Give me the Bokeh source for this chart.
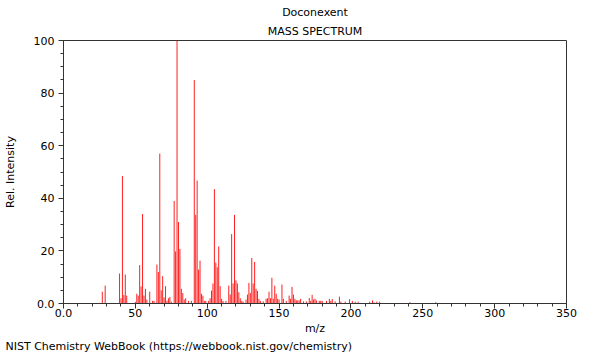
from bokeh.plotting import figure
from bokeh.models import FixedTicker, Range1d, Title
from bokeh.embed import file_html
from bokeh.resources import INLINE

# ---- data ----
mz = [27, 29, 39, 40, 41, 42, 43, 44, 50, 51, 52, 53, 54, 55, 56, 57, 58, 60, 62, 63,
      65, 66, 67, 68, 69, 70, 71, 72, 73, 74, 75, 77, 78, 79, 80, 81, 82, 83, 84, 85,
      87, 89, 91, 92, 93, 94, 95, 96, 97, 98, 99, 101, 102, 103, 104, 105, 106, 107, 108, 109,
      110, 111, 113, 115, 116, 117, 118, 119, 120, 121, 122, 123, 124, 125, 127, 128, 129, 130, 131, 132,
      133, 134, 135, 136, 137, 139, 141, 142, 143, 144, 145, 146, 147, 148, 149, 150, 152, 153, 155, 157,
      158, 159, 160, 161, 162, 163, 164, 165, 167, 169, 171, 172, 173, 174, 175, 176, 178, 179, 180, 183,
      185, 186, 187, 189, 192, 193, 196, 199, 201, 203, 205, 213, 215, 216, 218, 220, 241, 259]
intensity = [4.5, 6.8, 11.4, 2.0, 48.5, 3.2, 11.0, 3.0, 0.6, 3.7, 3.0, 14.6, 6.5, 34.0, 3.0, 5.6, 1.5, 4.5, 1.0, 1.0,
             14.8, 12.0, 57.0, 5.0, 10.4, 2.3, 6.6, 1.0, 2.0, 2.5, 0.7, 39.0, 19.8, 100.0, 31.0, 20.7, 5.6, 4.0, 1.5, 2.0,
             1.0, 1.0, 85.0, 33.7, 46.7, 12.9, 16.3, 3.7, 3.0, 1.0, 1.0, 1.0, 2.0, 4.9, 7.6, 43.5, 15.6, 13.8, 21.7, 6.6,
             1.8, 1.0, 1.0, 6.8, 3.4, 26.4, 7.6, 33.7, 8.8, 7.6, 4.3, 2.0, 1.0, 0.7, 1.5, 3.4, 7.8, 4.0, 17.3, 7.6,
             15.8, 5.6, 4.8, 1.8, 1.0, 0.8, 1.8, 2.0, 4.5, 2.0, 9.8, 1.8, 6.8, 3.7, 1.8, 1.5, 7.2, 1.8, 1.0, 3.0,
             1.8, 6.3, 3.4, 1.8, 1.2, 1.2, 1.2, 1.8, 0.8, 0.8, 2.1, 1.0, 3.3, 1.5, 1.8, 1.2, 1.0, 1.0, 1.0, 1.0,
             1.8, 1.0, 1.7, 0.8, 2.6, 0.7, 0.7, 1.6, 1.0, 0.7, 0.7, 0.7, 1.2, 0.4, 0.7, 0.7, 0.5, 0.5]
baseline = [0.0] * len(mz)

x_ticks = [0, 50, 100, 150, 200, 250, 300, 350]
y_ticks = [0, 20, 40, 60, 80, 100]
x_minor = list(range(0, 351, 10))
y_minor = list(range(0, 101, 5))

title1 = "Doconexent"
title2 = "MASS SPECTRUM"
xlabel = "m/z"
ylabel = "Rel. Intensity"
credit = "NIST Chemistry WebBook (https://webbook.nist.gov/chemistry)"

FONT = "DejaVu Sans"
FS = "11px"

p = figure(width=592, height=352, output_backend="svg", toolbar_location=None,
           x_range=Range1d(0, 350), y_range=Range1d(0, 100), title=None,
           min_border_left=62, min_border_right=26, min_border_top=40, min_border_bottom=48)

p.segment(x0=mz, y0=baseline, x1=mz, y1=intensity, line_color="#ff2020", line_width=1)

p.xgrid.visible = False
p.ygrid.visible = False
p.outline_line_color = "#333333"
p.outline_line_width = 1
p.background_fill_color = "white"
p.border_fill_color = "white"

for ax, ticks, minor in ((p.xaxis[0], x_ticks, x_minor), (p.yaxis[0], y_ticks, y_minor)):
    ax.ticker = FixedTicker(ticks=ticks, minor_ticks=minor)
    ax.major_label_overrides = {0: "0.0"}
    ax.axis_line_color = "#333333"
    ax.major_tick_line_color = "#333333"
    ax.minor_tick_line_color = "#333333"
    ax.major_tick_out = 5
    ax.major_tick_in = 0
    ax.minor_tick_out = 3
    ax.minor_tick_in = 0
    ax.major_label_text_font = FONT
    ax.major_label_text_font_size = FS
    ax.major_label_text_color = "black"
    ax.axis_label_text_font = FONT
    ax.axis_label_text_font_size = FS
    ax.axis_label_text_font_style = "normal"
    ax.axis_label_text_color = "black"

p.xaxis[0].major_label_standoff = 0
p.yaxis[0].major_label_standoff = 4
p.xaxis[0].axis_label = xlabel
p.yaxis[0].axis_label = ylabel
p.xaxis[0].axis_label_standoff = 2
p.yaxis[0].axis_label_standoff = 14

def make_title(text, standoff, align="center", offset=0):
    return Title(text=text, align=align, offset=offset, standoff=standoff,
                 text_font=FONT, text_font_size=FS, text_font_style="normal",
                 text_color="black")

p.add_layout(make_title(title2, 5), "above")
p.add_layout(make_title(title1, 3), "above")
p.add_layout(make_title(credit, 0, align="left", offset=-58), "below")

open("out.html", "w").write(file_html(p, INLINE))
